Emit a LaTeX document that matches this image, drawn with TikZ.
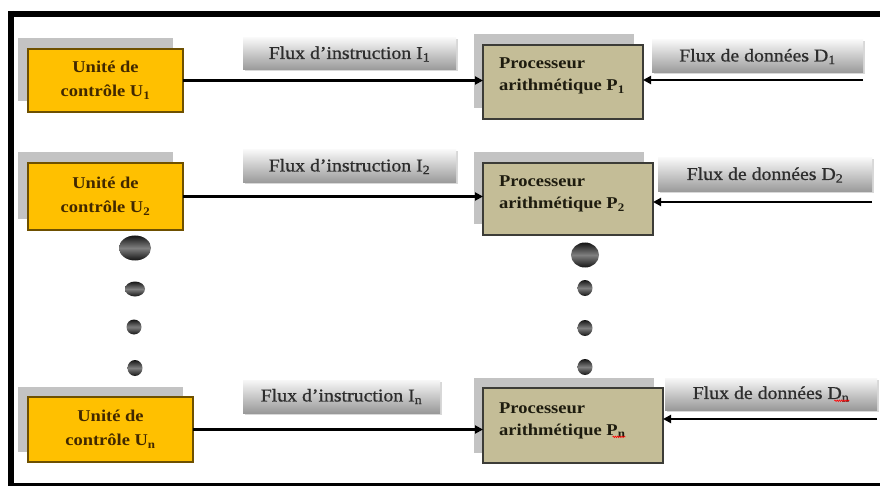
\documentclass[tikz,border=0pt]{standalone}
\usepackage{fontspec}
\setmainfont{Liberation Serif}[FakeStretch=1.12]
\newfontfamily\fluxfamily{Liberation Serif}[FakeStretch=1.1, FakeBold=0.8, Ligatures=TeX]
\usetikzlibrary{arrows.meta,shadows,decorations.pathmorphing}
\definecolor{ctrlfill}{RGB}{255,192,0}
\definecolor{ctrldraw}{RGB}{110,80,0}
\definecolor{ctrltext}{RGB}{65,40,0}
\definecolor{procfill}{RGB}{196,189,151}
\definecolor{procdraw}{RGB}{60,60,55}
\definecolor{proctext}{RGB}{30,28,15}
\definecolor{fluxtext}{RGB}{45,45,45}
\definecolor{backshadow}{RGB}{195,195,195}
\tikzset{
  ctrl/.style={draw=ctrldraw, line width=1.3pt, fill=ctrlfill, text=ctrltext,
    align=center, inner sep=0pt, outer sep=0pt,
    font=\fontsize{16.5}{24}\selectfont\bfseries,
    general shadow={shadow xshift=-10.5pt, shadow yshift=10.5pt, fill=backshadow}},
  proc/.style={draw=procdraw, line width=1.5pt, fill=procfill,
    inner sep=0pt, outer sep=0pt,
    general shadow={shadow xshift=-9pt, shadow yshift=10.5pt, fill=backshadow}},
  proctxt/.style={text=proctext, align=left, inner sep=0pt,
    font=\fontsize{16.5}{22}\selectfont\bfseries},
  flux/.style={top color=gray!6, bottom color=gray!80, draw=none,
    text=fluxtext, inner sep=0pt, outer sep=0pt,
    font=\fluxfamily\fontsize{18}{20}\selectfont,
    drop shadow={shadow xshift=1.5pt, shadow yshift=-1.5pt, opacity=0.3}},
  fluxtxt/.style={text=fluxtext, inner sep=0pt, font=\fluxfamily\fontsize{18}{20}\selectfont},
  flow/.style={line width=2.2pt, black, -{Triangle[length=8pt,width=8pt]}},
  bigdot/.style={top color=black!92, bottom color=black!92, middle color=black!50, draw=none},
  frameline/.style={black, line width=6pt},
  spellmark/.style={red, line width=0.6pt, decorate,
    decoration={zigzag, segment length=2.2pt, amplitude=0.8pt}}
}
\begin{document}
\begin{tikzpicture}[x=1pt,y=-1pt]
  \useasboundingbox (0,0) rectangle (880,486);
  \fill[white] (0,0) rectangle (880,486);
  % outer frame
  \draw[frameline] (8,14) -- (880,14);
  \draw[frameline] (11,11) -- (11,486);
  \draw[black, line width=3.5pt] (8,484.5) -- (880,484.5);

  % control units
  \node[ctrl, minimum width=155pt, minimum height=63pt] (c1) at (105.5,80.5) {Unité de\\contrôle U\textsubscript{1}};
  \node[ctrl, minimum width=155pt, minimum height=67pt] (c2) at (105.5,196.5) {Unité de\\contrôle U\textsubscript{2}};
  \node[ctrl, minimum width=165pt, minimum height=65pt] (cn) at (110.5,429.5) {Unité de\\contrôle U\textsubscript{n}};

  % arithmetic processors
  \node[proc, minimum width=160pt, minimum height=74pt] (p1) at (563,82) {};
  \node[proc, minimum width=170pt, minimum height=72pt] (p2) at (568,199) {};
  \node[proc, minimum width=180pt, minimum height=75pt] (pn) at (573,425.5) {};
  \node[proctxt, anchor=west] (t1) at ([xshift=16pt,yshift=6pt]p1.west) {Processeur\\arithmétique P\textsubscript{1}};
  \node[proctxt, anchor=west] (t2) at ([xshift=16pt,yshift=5pt]p2.west) {Processeur\\arithmétique P\textsubscript{2}};
  \node[proctxt, anchor=west] (tn) at ([xshift=16pt,yshift=5pt]pn.west) {Processeur\\arithmétique P\textsubscript{n}};
  \draw[spellmark] ([xshift=-13pt,yshift=2pt]tn.south east) -- ([yshift=2pt]tn.south east);

  % stream labels
  \node[flux, minimum width=213pt, minimum height=32pt] (i1) at (349.5,54) {Flux d’instruction I\textsubscript{1}};
  \node[flux, minimum width=213pt, minimum height=33pt] (i2) at (349.5,166.5) {Flux d’instruction I\textsubscript{2}};
  \node[flux, minimum width=197pt, minimum height=33pt] (in) at (341.5,396.5) {Flux d’instruction I\textsubscript{n}};
  \node[flux, minimum width=211pt, minimum height=33pt] (dd1) at (757.5,56.5) {Flux de données D\textsubscript{1}};
  \node[flux, minimum width=214pt, minimum height=34pt] (dd2) at (765,175) {Flux de données D\textsubscript{2}};
  \node[flux, minimum width=212pt, minimum height=32pt] (ddn) at (771,394) {};
  \node[fluxtxt] (tdn) at (ddn.center) {Flux de données D\textsubscript{n}};
  \draw[spellmark] ([xshift=-15pt,yshift=1pt]tdn.south east) -- ([yshift=1pt]tdn.south east);

  % instruction streams
  \draw[flow] (c1.east) -- (c1.east -| p1.west);
  \draw[flow] (c2.east) -- (c2.east -| p2.west);
  \draw[flow] (cn.east) -- (cn.east -| pn.west);

  % data streams
  \coordinate (s1) at (863,80);
  \coordinate (s2) at (872,202);
  \coordinate (sn) at (877,419);
  \draw[flow] (s1) -- (s1 -| p1.east);
  \draw[flow] (s2) -- (s2 -| p2.east);
  \draw[flow] (sn) -- (sn -| pn.east);

  % ellipsis dots
  \shade[bigdot] (135,248) ellipse [x radius=16, y radius=12.5];
  \shade[bigdot] (135,289) ellipse [x radius=10, y radius=7.5];
  \shade[bigdot] (134,327) ellipse [x radius=7.5, y radius=7.5];
  \shade[bigdot] (135,368) ellipse [x radius=7.5, y radius=8];
  \shade[bigdot] (585,255) ellipse [x radius=14, y radius=12.5];
  \shade[bigdot] (585,288) ellipse [x radius=7.5, y radius=8];
  \shade[bigdot] (585,328) ellipse [x radius=7.5, y radius=8];
  \shade[bigdot] (585,367) ellipse [x radius=7.5, y radius=8];
\end{tikzpicture}
\end{document}
